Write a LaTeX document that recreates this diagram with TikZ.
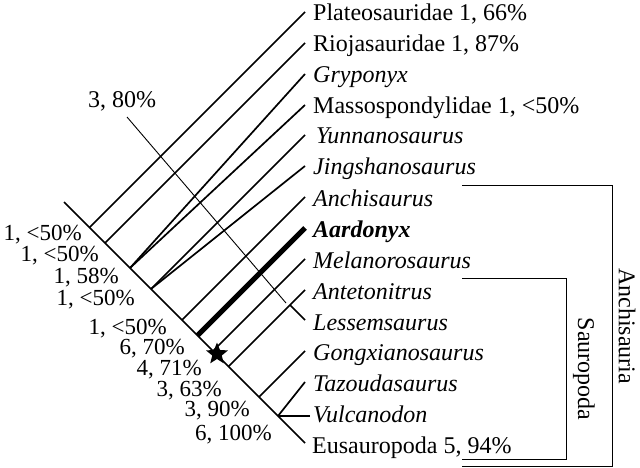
\documentclass[tikz,border=0pt]{standalone}
\usepackage{fontspec}
\setmainfont{Liberation Serif}
\usetikzlibrary{shapes.geometric}
\begin{document}
\begin{tikzpicture}[x=1pt,y=-1pt,
    branch/.style={line width=1.7pt},
    heavy/.style={line width=5pt},
    leader/.style={line width=0.9pt},
    cladeline/.style={line width=0.9pt},
    taxon/.style={anchor=base west,inner sep=0pt,font=\fontsize{24}{28}\selectfont},
    support/.style={anchor=base east,inner sep=0pt,font=\fontsize{23}{26}\selectfont},
    cladename/.style={rotate=-90,inner sep=0pt,font=\fontsize{24}{28}\selectfont}]
    \useasboundingbox (0,0) rectangle (640,468);
    % taxa
    \node[taxon] (plat) at (313,21) {Plateosauridae 1, 66\%};
    \node[taxon] (rioj) at (313,52) {Riojasauridae 1, 87\%};
    \node[taxon] (gryp) at (313,83) {\textit{Gryponyx}};
    \node[taxon] (mass) at (313,114) {Massospondylidae 1, <50\%};
    \node[taxon] (yunn) at (316,144) {\textit{Yunnanosaurus}};
    \node[taxon] (jing) at (313,175) {\textit{Jingshanosaurus}};
    \node[taxon] (anch) at (313,206) {\textit{Anchisaurus}};
    \node[taxon] (aard) at (313,237) {\textbf{\textit{Aardonyx}}};
    \node[taxon] (mela) at (313,268) {\textit{Melanorosaurus}};
    \node[taxon] (ante) at (313,299) {\textit{Antetonitrus}};
    \node[taxon] (less) at (313,330) {\textit{Lessemsaurus}};
    \node[taxon] (gong) at (313,360) {\textit{Gongxianosaurus}};
    \node[taxon] (tazo) at (313,391) {\textit{Tazoudasaurus}};
    \node[taxon] (vulc) at (313,422) {\textit{Vulcanodon}};
    \node[taxon] (eusa) at (312,453) {Eusauropoda 5, 94\%};
    % tips
    \coordinate (plat-t) at (305,12);
    \coordinate (rioj-t) at (305,43);
    \coordinate (gryp-t) at (305,74);
    \coordinate (mass-t) at (305,105);
    \coordinate (yunn-t) at (305,135);
    \coordinate (jing-t) at (305,166);
    \coordinate (anch-t) at (305,197);
    \coordinate (aard-t) at (305,228);
    \coordinate (mela-t) at (305,259);
    \coordinate (ante-t) at (305,290);
    \coordinate (less-j) at (290,305);
    \coordinate (less-t) at (305,320);
    \coordinate (gong-t) at (305,351);
    \coordinate (tazo-t) at (305,382);
    \coordinate (vulc-t) at (310,416);
    \coordinate (eusa-t) at (305,443);
    % nodes on the spine
    \coordinate (root) at (64,202);
    \coordinate (plat-n) at (89.5,227.5);
    \coordinate (rioj-n) at (105,243);
    \coordinate (gm-n) at (130,268);
    \coordinate (yj-n) at (151,289);
    \coordinate (anch-n) at (182,320);
    \coordinate (aard-n) at (197.5,335.5);
    \coordinate (mela-n) at (213,351);
    \coordinate (ante-n) at (228.5,366.5);
    \coordinate (gong-n) at (259,397);
    \coordinate (tve-n) at (278,416);
    % branches
    \draw[branch] (root) -- (eusa-t);
    \draw[branch] (plat-n) -- (plat-t);
    \draw[branch] (rioj-n) -- (rioj-t);
    \draw[branch] (gm-n) -- (gryp-t);
    \draw[branch] (gm-n) -- (mass-t);
    \draw[branch] (yj-n) -- (yunn-t);
    \draw[branch] (yj-n) -- (jing-t);
    \draw[branch] (anch-n) -- (anch-t);
    \draw[heavy] (aard-n) -- (aard-t);
    \draw[branch] (mela-n) -- (mela-t);
    \draw[branch] (ante-n) -- (ante-t);
    \draw[branch] (less-j) -- (less-t);
    \draw[branch] (gong-n) -- (gong-t);
    \draw[branch] (tve-n) -- (tazo-t);
    \draw[branch] (tve-n) -- (vulc-t);
    \node[star,star points=5,star point ratio=2.3,fill=black,inner sep=0pt,minimum size=23pt] (star) at (217,354) {};
    % support values
    \node[support] (s1) at (82,240) {1, <50\%};
    \node[support] (s2) at (99,261) {1, <50\%};
    \node[support] (s3) at (119,283) {1, 58\%};
    \node[support] (s4) at (135,305) {1, <50\%};
    \node[support] (s5) at (167,334) {1, <50\%};
    \node[support] (s6) at (185,354) {6, 70\%};
    \node[support] (s7) at (202,375) {4, 71\%};
    \node[support] (s8) at (222,396) {3, 63\%};
    \node[support] (s9) at (250,416) {3, 90\%};
    \node[support] (s10) at (272,440) {6, 100\%};
    \node[taxon] (s80) at (88,108) {3, 80\%};
    \coordinate (lead-a) at (127,117);
    \coordinate (lead-b) at (286,303);
    \draw[leader] (lead-a) -- (lead-b);
    % clades
    \draw[cladeline] (462,185) -- (612,185) -- (612,466) -- (462,466);
    \draw[cladeline] (462,278) -- (566,278) -- (566,459) -- (462,459);
    \node[cladename] (anchisauria) at (627,326) {Anchisauria};
    \node[cladename] (sauropoda) at (584,369) {Sauropoda};
\end{tikzpicture}
\end{document}
